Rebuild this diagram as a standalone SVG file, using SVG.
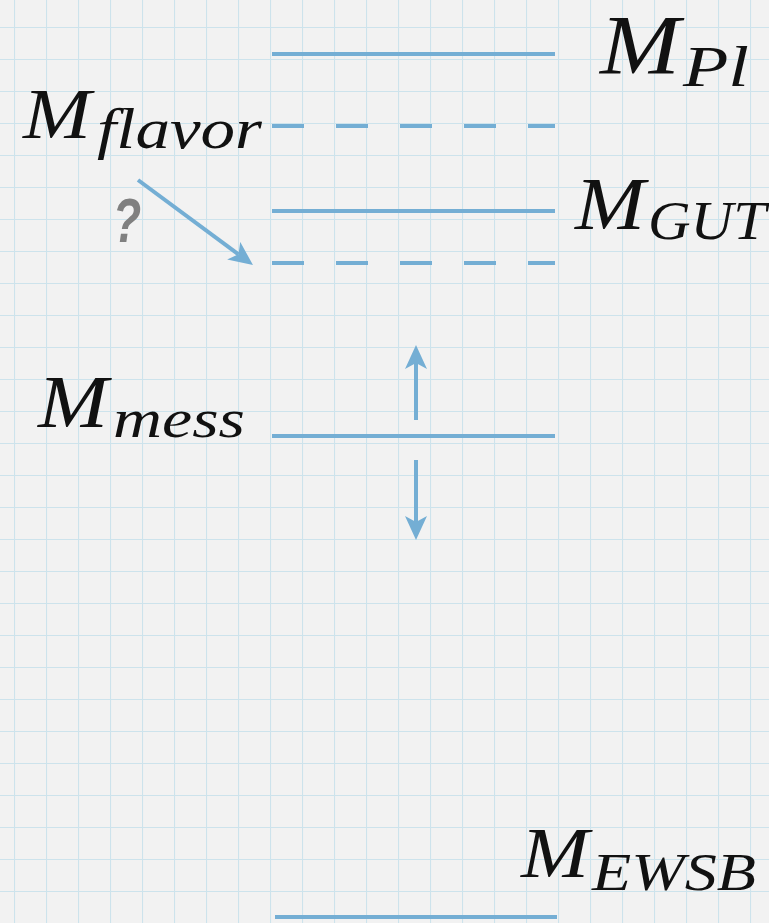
<svg xmlns="http://www.w3.org/2000/svg" width="769" height="923" viewBox="0 0 769 923">
<style>
.lvl{stroke:#74aed4;stroke-width:4;fill:none}
.dash{stroke-dasharray:32 32}
.conn{stroke:#74aed4;stroke-width:4;fill:none}
.m{font-family:"Liberation Serif",serif;font-style:italic;fill:#111}
.q{font-family:"Liberation Sans",sans-serif;font-weight:bold;font-style:italic;fill:#808080}
</style>
<defs>
<pattern id="grid" x="14" y="27" width="32" height="32" patternUnits="userSpaceOnUse">
<path d="M0,0 V32 M0,0 H32" stroke="#cde3ec" stroke-width="2.2" fill="none"/>
</pattern>
<marker id="ah" markerUnits="userSpaceOnUse" markerWidth="26" markerHeight="24" refX="6" refY="11" orient="auto" viewBox="0 0 26 24">
<path d="M0,0 L24,11 L0,22 L6,11 Z" fill="#74aed4"/>
</marker>
</defs>
<rect width="769" height="923" fill="#f2f2f2"/>
<rect width="769" height="923" fill="url(#grid)"/>
<g id="levels">
<g id="planck"><line class="lvl" x1="272" y1="54" x2="555" y2="54"/><text class="m" x="600" y="74" font-size="84" textLength="80" lengthAdjust="spacingAndGlyphs">M</text><text class="m" x="683" y="86" font-size="58" textLength="66" lengthAdjust="spacingAndGlyphs">Pl</text></g>
<g id="flavor"><line class="lvl dash" x1="272" y1="126" x2="555" y2="126"/><text class="m" x="23" y="138" font-size="72" textLength="68" lengthAdjust="spacingAndGlyphs">M</text><text class="m" x="97" y="148" font-size="56" textLength="165" lengthAdjust="spacingAndGlyphs">flavor</text></g>
<g id="gut"><line class="lvl" x1="272" y1="211" x2="555" y2="211"/><text class="m" x="575" y="229" font-size="74" textLength="70" lengthAdjust="spacingAndGlyphs">M</text><text class="m" x="648" y="239" font-size="54" textLength="118" lengthAdjust="spacingAndGlyphs">GUT</text></g>
<g id="flavor-low"><line class="lvl dash" x1="272" y1="263" x2="555" y2="263"/></g>
<g id="mess"><line class="lvl" x1="272" y1="436" x2="555" y2="436"/><text class="m" x="38" y="427" font-size="74" textLength="70" lengthAdjust="spacingAndGlyphs">M</text><text class="m" x="113" y="437" font-size="54" textLength="132" lengthAdjust="spacingAndGlyphs">mess</text></g>
<g id="ewsb"><line class="lvl" x1="275" y1="917" x2="557" y2="917"/><text class="m" x="521" y="877" font-size="72" textLength="68" lengthAdjust="spacingAndGlyphs">M</text><text class="m" x="592" y="890" font-size="52" textLength="164" lengthAdjust="spacingAndGlyphs">EWSB</text></g>
<g id="question"><text class="q" transform="translate(127,242) scale(0.75,1)" x="0" y="0" font-size="62" text-anchor="middle">?</text></g>
</g>
<g id="connectors">
<line class="conn" x1="138" y1="180" x2="238.5" y2="254.3" marker-end="url(#ah)"/>
<line class="conn" x1="416" y1="420" x2="416" y2="363" marker-end="url(#ah)"/>
<line class="conn" x1="416" y1="460" x2="416" y2="522" marker-end="url(#ah)"/>
</g>
</svg>
